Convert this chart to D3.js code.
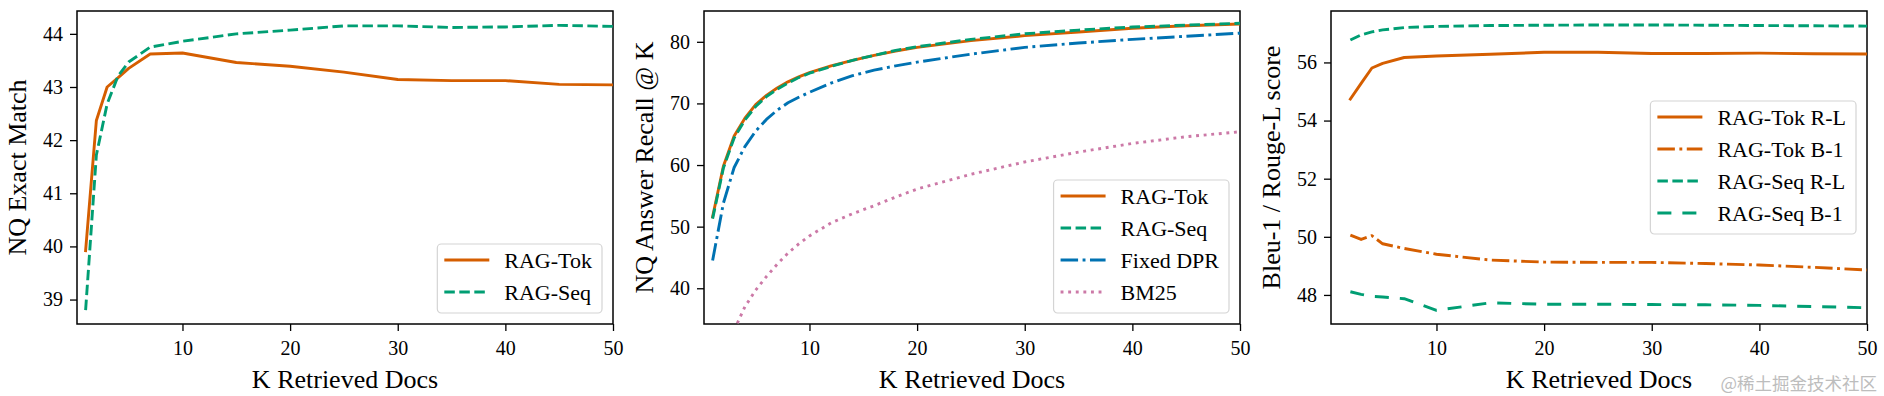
<!DOCTYPE html>
<html>
<head>
<meta charset="utf-8">
<script src="https://cdn.jsdelivr.net/npm/d3@7"></script>
<style>
	body { margin: 0; background: #fff; }
	.tick line { stroke: #000; stroke-width: 1.3; }
</style>
</head>
<body>
<svg id="fig" width="1884" height="396"></svg>
<script>

// ---- data ----
const x_label = "K Retrieved Docs";
const x_ticks = [10, 20, 30, 40, 50];

// left panel: exact match
const k_em = [1, 2, 3, 4, 5, 7, 10, 15, 20, 25, 30, 35, 40, 45, 50];
const em_rag_tok = [39.92, 42.37, 43.0, 43.17, 43.35, 43.62, 43.64, 43.46, 43.39, 43.28, 43.14, 43.12, 43.12, 43.05, 43.04];
const em_rag_seq = [38.8, 41.72, 42.68, 43.2, 43.47, 43.75, 43.86, 44.0, 44.07, 44.15, 44.15, 44.12, 44.13, 44.16, 44.14];
const em_ticks = [39, 40, 41, 42, 43, 44];

// middle panel: answer recall
const k_recall = [1, 2, 3, 4, 5, 6, 7, 8, 9, 10, 12, 14, 16, 18, 20, 25, 30, 35, 40, 45, 50];
const recall_rag_tok = [51.6, 59.8, 64.7, 67.6, 69.8, 71.3, 72.5, 73.5, 74.3, 75.0, 76.1, 77.0, 77.8, 78.5, 79.1, 80.2, 81.0, 81.6, 82.2, 82.6, 82.9];
const recall_rag_seq = [51.3, 59.5, 64.4, 67.3, 69.5, 71.1, 72.3, 73.3, 74.2, 74.9, 76.0, 77.0, 77.8, 78.6, 79.2, 80.4, 81.3, 81.9, 82.4, 82.7, 83.0];
const recall_fixed_dpr = [44.5, 53.8, 59.6, 63.0, 65.5, 67.4, 68.9, 70.1, 71.0, 71.8, 73.3, 74.5, 75.4, 76.1, 76.7, 78.0, 79.1, 79.8, 80.4, 80.9, 81.4];
const k_bm25 = [3, 4, 5, 6, 7, 8, 9, 10, 12, 14, 16, 18, 20, 25, 30, 35, 40, 45, 50];
const recall_bm25 = [33.2, 37.0, 39.7, 41.9, 43.9, 45.7, 47.2, 48.5, 50.6, 52.1, 53.4, 54.8, 56.1, 58.5, 60.5, 62.1, 63.5, 64.6, 65.4];
const recall_ticks = [40, 50, 60, 70, 80];

// right panel: generation scores
const k_gen = [2, 3, 4, 5, 7, 10, 15, 20, 25, 30, 35, 40, 45, 50];
const gen_tok_rl = [54.74, 55.28, 55.81, 55.97, 56.17, 56.22, 56.28, 56.35, 56.35, 56.31, 56.31, 56.32, 56.30, 56.29];
const gen_tok_b1 = [50.06, 49.91, 50.04, 49.76, 49.6, 49.4, 49.2, 49.13, 49.12, 49.12, 49.08, 49.03, 48.95, 48.86];
const gen_seq_rl = [56.77, 56.95, 57.05, 57.12, 57.2, 57.24, 57.27, 57.28, 57.29, 57.29, 57.28, 57.27, 57.26, 57.25];
const gen_seq_b1 = [48.11, 48.02, 47.95, 47.93, 47.87, 47.47, 47.73, 47.68, 47.68, 47.67, 47.66, 47.64, 47.6, 47.56];
const gen_ticks = [48, 50, 52, 54, 56];

const watermark = "@稀土掘金技术社区";

// ---- styles ----
const SERIF = "'Liberation Serif', 'DejaVu Serif', serif";
const ORANGE = "#d55e00", GREEN = "#009e73", BLUE = "#0072b2", PINK = "#cc79a7";
const LW = 2.9;
const SOLID = null,
	DASHED = "10.5,4.5",
	DASHDOT = "17.5,4.5,2.9,4.5",
	DOTTED = "2.9,4.7",
	LONGDASH = "14,11";

function whenDocumentLoaded(action) {
	if (document.readyState === "loading") {
		document.addEventListener("DOMContentLoaded", action);
	} else {
		action();
	}
}

function zipSeries(xs, ys) {
	return xs.map((k, i) => ({ k: k, v: ys[i] }));
}

class LinePanel {

	constructor(svg, opts) {
		this.svg = svg;
		this.opts = opts;
		this.left = opts.left;
		this.right = opts.left + 536;
		this.top = 11;
		this.bottom = 324;

		this.x = d3.scaleLinear().domain([0.2, 50]).range([this.left, this.right]);
		this.y = d3.scaleLinear().domain(opts.yDomain).range([this.bottom, this.top]);

		this.drawAxes();
		this.drawLines();
		this.drawLegend();
	}

	drawAxes() {
		const g = this.svg.append("g");

		const xAxis = d3.axisBottom(this.x)
			.tickValues(x_ticks).tickFormat(d3.format("d"))
			.tickSize(7).tickPadding(10);
		g.append("g")
			.attr("transform", "translate(0," + this.bottom + ")")
			.call(xAxis)
			.call(a => a.select(".domain").remove())
			.selectAll("text")
			.style("font-family", SERIF).style("font-size", "20px").style("fill", "#000");

		const yAxis = d3.axisLeft(this.y)
			.tickValues(this.opts.yTicks).tickFormat(d3.format("d"))
			.tickSize(7).tickPadding(7);
		g.append("g")
			.attr("transform", "translate(" + this.left + ",0)")
			.call(yAxis)
			.call(a => a.select(".domain").remove())
			.selectAll("text")
			.style("font-family", SERIF).style("font-size", "20px").style("fill", "#000");

		// frame around the plot area
		g.append("rect")
			.attr("x", this.left).attr("y", this.top)
			.attr("width", this.right - this.left).attr("height", this.bottom - this.top)
			.attr("fill", "none").attr("stroke", "#000").attr("stroke-width", 1.5);

		g.append("text")
			.attr("x", (this.left + this.right) / 2).attr("y", 388)
			.attr("text-anchor", "middle")
			.style("font-family", SERIF).style("font-size", "26px")
			.text(x_label);

		const cy = (this.top + this.bottom) / 2;
		g.append("text")
			.attr("transform", "translate(" + (this.left - 60) + "," + cy + ") rotate(-90)")
			.attr("text-anchor", "middle")
			.attr("dy", "0.35em")
			.style("font-family", SERIF).style("font-size", "26px")
			.text(this.opts.yLabel);
	}

	drawLines() {
		const clipId = "clip-" + this.opts.id;
		this.svg.append("clipPath").attr("id", clipId)
			.append("rect")
			.attr("x", this.left).attr("y", this.top)
			.attr("width", this.right - this.left).attr("height", this.bottom - this.top);

		const line = d3.line()
			.x(d => this.x(d.k))
			.y(d => this.y(d.v));

		this.svg.append("g")
			.attr("clip-path", "url(#" + clipId + ")")
			.selectAll("path")
			.data(this.opts.series)
			.join("path")
			.attr("d", s => line(s.data))
			.attr("fill", "none")
			.attr("stroke", s => s.color)
			.attr("stroke-width", LW)
			.attr("stroke-dasharray", s => s.dash)
			.attr("stroke-linejoin", "round")
			.attr("stroke-linecap", s => s.dash ? "butt" : "square");
	}

	drawLegend() {
		const series = this.opts.series;
		const rowH = 32;
		const n = series.length;
		const boxH = (n - 1) * rowH + 37;
		let boxTop;
		if (this.opts.legendPos === "center right") {
			boxTop = (this.top + this.bottom) / 2 - boxH / 2;
		} else {
			boxTop = this.bottom - 11 - boxH;
		}

		const g = this.svg.append("g");
		const box = g.append("rect")
			.attr("rx", 4).attr("ry", 4)
			.attr("fill", "#fff").attr("fill-opacity", 0.85)
			.attr("stroke", "#d4d4d4").attr("stroke-width", 1.2);

		const rows = g.selectAll("g.row")
			.data(series)
			.join("g")
			.attr("class", "row")
			.attr("transform", (s, i) => "translate(0," + (boxTop + 16 + i * rowH) + ")");

		rows.append("line")
			.attr("x1", 7).attr("x2", 52)
			.attr("stroke", s => s.color)
			.attr("stroke-width", LW)
			.attr("stroke-dasharray", s => s.dash);

		const labels = rows.append("text")
			.attr("x", 67).attr("dy", "0.35em")
			.style("font-family", SERIF).style("font-size", "22px")
			.text(s => s.name);

		let maxW = 0;
		labels.each(function() { maxW = Math.max(maxW, this.getComputedTextLength()); });
		const boxW = 67 + maxW + 10;
		box.attr("x", 0).attr("y", boxTop).attr("width", boxW).attr("height", boxH);

		// anchor the legend to the right spine
		g.attr("transform", "translate(" + (this.right - 11 - boxW) + ",0)");
	}
}

whenDocumentLoaded(() => {
	const svg = d3.select("#fig");
	svg.append("rect").attr("width", 1884).attr("height", 396).attr("fill", "#fff");

	new LinePanel(svg, {
		id: "em",
		left: 77,
		yDomain: [38.54, 44.43],
		yTicks: em_ticks,
		yLabel: "NQ Exact Match",
		legendPos: "lower right",
		series: [
			{ name: "RAG-Tok", data: zipSeries(k_em, em_rag_tok), color: ORANGE, dash: SOLID },
			{ name: "RAG-Seq", data: zipSeries(k_em, em_rag_seq), color: GREEN, dash: DASHED },
		],
	});

	new LinePanel(svg, {
		id: "recall",
		left: 704,
		yDomain: [34.2, 85.0],
		yTicks: recall_ticks,
		yLabel: "NQ Answer Recall @ K",
		legendPos: "lower right",
		series: [
			{ name: "RAG-Tok", data: zipSeries(k_recall, recall_rag_tok), color: ORANGE, dash: SOLID },
			{ name: "RAG-Seq", data: zipSeries(k_recall, recall_rag_seq), color: GREEN, dash: DASHED },
			{ name: "Fixed DPR", data: zipSeries(k_recall, recall_fixed_dpr), color: BLUE, dash: DASHDOT },
			{ name: "BM25", data: zipSeries(k_bm25, recall_bm25), color: PINK, dash: DOTTED },
		],
	});

	new LinePanel(svg, {
		id: "gen",
		left: 1331,
		yDomain: [47.0, 57.77],
		yTicks: gen_ticks,
		yLabel: "Bleu-1 / Rouge-L score",
		legendPos: "center right",
		series: [
			{ name: "RAG-Tok R-L", data: zipSeries(k_gen, gen_tok_rl), color: ORANGE, dash: SOLID },
			{ name: "RAG-Tok B-1", data: zipSeries(k_gen, gen_tok_b1), color: ORANGE, dash: DASHDOT },
			{ name: "RAG-Seq R-L", data: zipSeries(k_gen, gen_seq_rl), color: GREEN, dash: DASHED },
			{ name: "RAG-Seq B-1", data: zipSeries(k_gen, gen_seq_b1), color: GREEN, dash: LONGDASH },
		],
	});

	// site watermark in the bottom right corner
	svg.append("text")
		.attr("x", 1877).attr("y", 390)
		.attr("text-anchor", "end")
		.style("font-family", "'Noto Sans CJK SC', sans-serif")
		.style("font-size", "17.5px")
		.style("fill", "#bdbdbd")
		.text(watermark);
});
</script>
</body>
</html>
